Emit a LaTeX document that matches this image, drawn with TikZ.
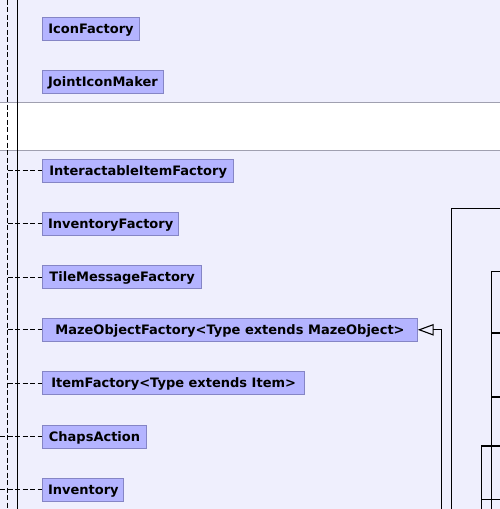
\documentclass[tikz,border=0pt]{standalone}
\usepackage{fontspec}
\setmainfont{DejaVu Sans}
\usetikzlibrary{arrows.meta}
\definecolor{bgc}{RGB}{239,239,253}
\definecolor{boxfill}{RGB}{180,180,255}
\definecolor{boxline}{RGB}{133,133,197}
\definecolor{sepline}{RGB}{160,160,176}
\tikzset{
  cls/.style={draw=boxline, fill=boxfill, line width=1bp, anchor=west,
    font=\fontsize{13bp}{15bp}\selectfont\bfseries, text=black,
    inner xsep=5.2bp, inner ysep=6.85bp, text height=9.3bp, text depth=0bp},
  dep/.style={draw=black, line width=1bp, dash pattern=on 5bp off 2.5bp},
  solidln/.style={draw=black, line width=1.1bp},
  inh/.style={draw=black, line width=1.1bp, -{Triangle[open, length=16bp, width=11.5bp]}}
}
\begin{document}
\begin{tikzpicture}[x=1bp, y=-1bp]
\useasboundingbox (0,0) rectangle (500,509);
\fill[bgc] (0,0) rectangle (500,509);
\fill[white] (0,102.5) rectangle (500,150.5);
\draw[sepline, line width=1bp] (0,102.5) -- (500,102.5);
\draw[sepline, line width=1bp] (0,150.5) -- (500,150.5);

% vertical lanes
\coordinate (dt) at (7.5,0);
\coordinate (db) at (7.5,509);
\coordinate (st) at (17.3,0);
\coordinate (sb) at (17.3,509);
\draw[dep] (dt) -- (db);
\draw[solidln] (st) -- (sb);

% classes
\node[cls, minimum width=96.4bp] (n1) at (42.3,28.8) {IconFactory};
\node[cls, minimum width=120.3bp] (n2) at (42.3,81.8) {JointIconMaker};
\node[cls, minimum width=190.7bp] (n3) at (42.3,170.8) {InteractableItemFactory};
\node[cls, minimum width=134.7bp] (n4) at (42.3,223.8) {InventoryFactory};
\node[cls, minimum width=158.7bp] (n5) at (42.3,277.2) {TileMessageFactory};
\node[cls, minimum width=374.4bp] (n6) at (42.3,329.8) {MazeObjectFactory<Type extends MazeObject>};
\node[cls, minimum width=261.7bp] (n7) at (42.3,383.3) {ItemFactory<Type extends Item>};
\node[cls, minimum width=103.4bp] (n8) at (42.3,436.8) {ChapsAction};
\node[cls, minimum width=79.3bp] (n9) at (42.3,489.8) {Inventory};

% dashed dependency connectors
\foreach \n in {n3,n4,n5,n6,n7}{
  \draw[dep] (7.5,0 |- \n.west) -- (\n.west);
}
\coordinate (e8) at (0,436.8);
\coordinate (e9) at (0,489.8);
\draw[dep] (e8) -- (n8.west);
\draw[dep] (e9) -- (n9.west);

% inheritance arrow into MazeObjectFactory
\coordinate (ib) at (441.7,509);
\draw[inh] (ib) |- (n6.east);

% right-hand connectors
\coordinate (a1) at (451.7,509);
\coordinate (a2) at (500,208.3);
\draw[solidln] (a1) |- (a2);
\coordinate (b1) at (491.3,509);
\coordinate (b2) at (500,271.3);
\draw[solidln] (b1) |- (b2);
\coordinate (b3) at (491.3,333);
\coordinate (b4) at (500,333);
\draw[solidln] (b3) -- (b4);
\coordinate (b5) at (491.3,397);
\coordinate (b6) at (500,397);
\draw[solidln] (b5) -- (b6);
\coordinate (c1) at (481.3,509);
\coordinate (c2) at (500,446);
\draw[solidln] (c1) |- (c2);
\coordinate (c3) at (481.3,499.3);
\coordinate (c4) at (500,499.3);
\draw[solidln] (c3) -- (c4);
\end{tikzpicture}
\end{document}
